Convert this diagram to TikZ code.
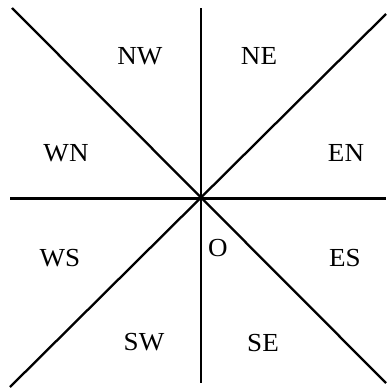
\documentclass[tikz,border=0pt]{standalone}
\usepackage{fontspec}
\setmainfont{Liberation Serif}
\begin{document}
\begin{tikzpicture}[x=1pt,y=-1pt,
  lbl/.style={font=\fontsize{26}{26}\selectfont, inner sep=0pt, xscale=1.04},
  ln/.style={line width=2.3pt, black}]
\useasboundingbox (0,0) rectangle (386,388);
\coordinate (O) at (201,198);
\coordinate (T) at (201,8);
\coordinate (B) at (201,383);
\coordinate (L) at (10,198);
\coordinate (R) at (386,198);
\coordinate (NWc) at (12,8);
\coordinate (SEc) at (386,383);
\coordinate (NEc) at (386,14);
\coordinate (SWc) at (10,387);
\draw[ln] (T) -- (B);
\draw[ln, line width=3pt] (L) -- (R);
\draw[ln] (NWc) -- (SEc);
\draw[ln] (NEc) -- (SWc);
\node[lbl] (nw) at (140,56) {NW};
\node[lbl] (ne) at (259,56) {NE};
\node[lbl] (wn) at (66,153) {WN};
\node[lbl] (en) at (346,153) {EN};
\node[lbl] (ws) at (60,258) {WS};
\node[lbl] (es) at (345,258) {ES};
\node[lbl] (o) at (218,248) {O};
\node[lbl] (sw) at (144,342) {SW};
\node[lbl] (se) at (263,343) {SE};
\end{tikzpicture}
\end{document}
